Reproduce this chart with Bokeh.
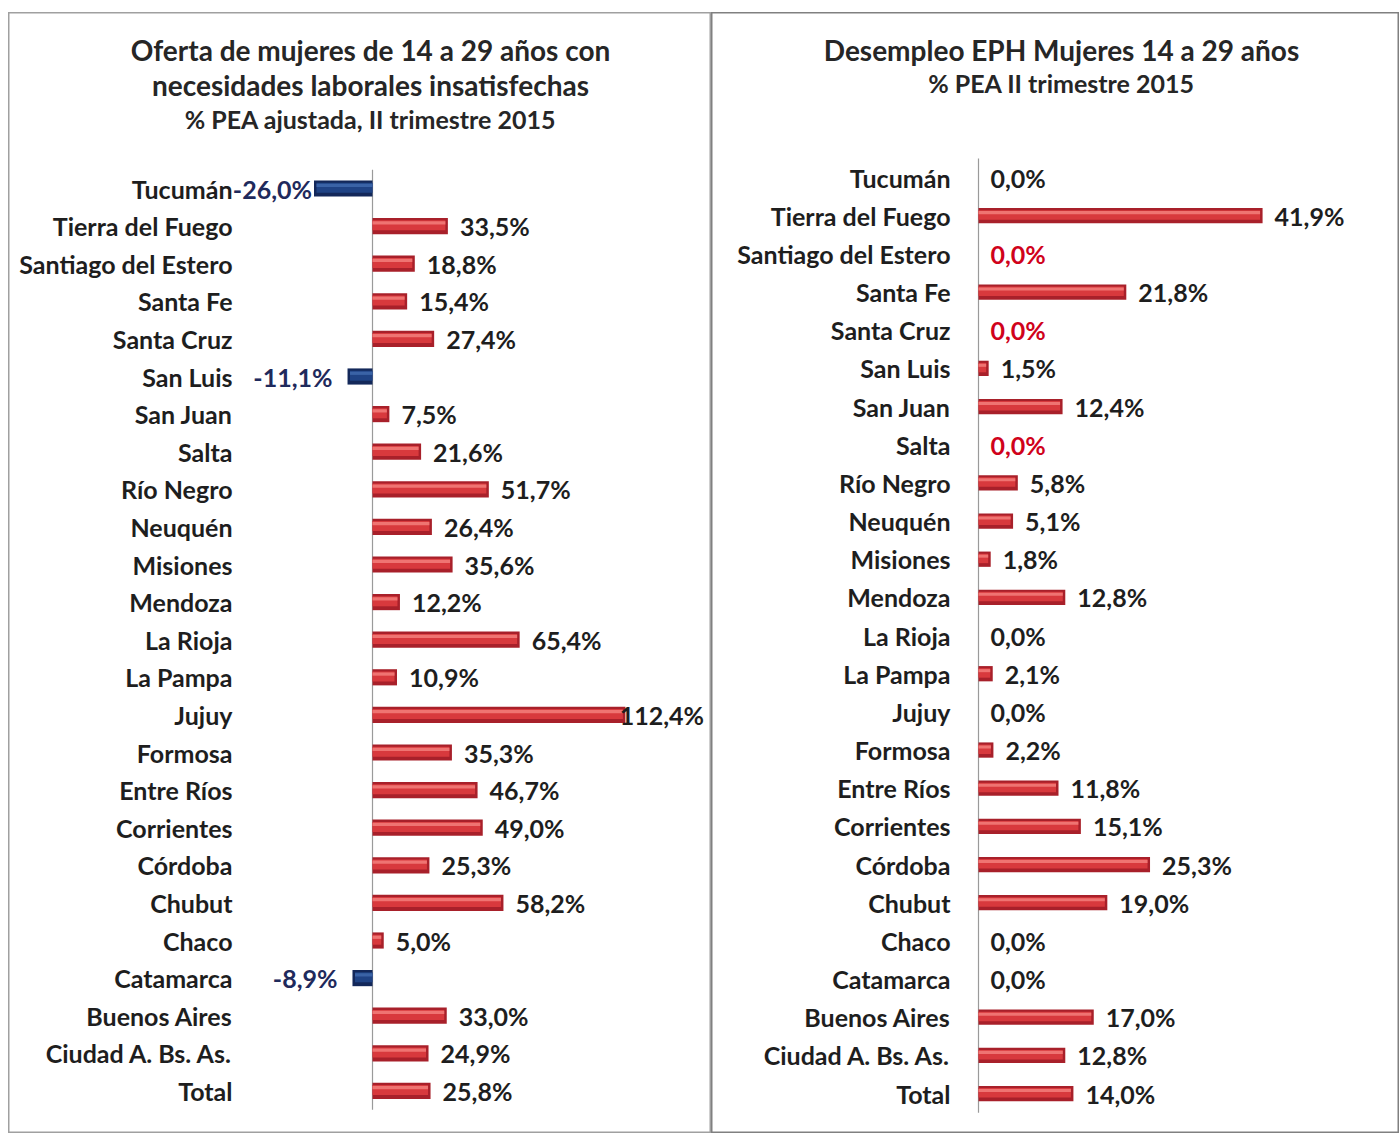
from bokeh.plotting import figure
from bokeh.models import Range1d
from bokeh.layouts import row
from bokeh.embed import file_html
from bokeh.resources import INLINE
from bokeh.core.properties import value

provincias = ["Tucumán", "Tierra del Fuego", "Santiago del Estero", "Santa Fe", "Santa Cruz",
              "San Luis", "San Juan", "Salta", "Río Negro", "Neuquén", "Misiones", "Mendoza",
              "La Rioja", "La Pampa", "Jujuy", "Formosa", "Entre Ríos", "Corrientes", "Córdoba",
              "Chubut", "Chaco", "Catamarca", "Buenos Aires", "Ciudad A. Bs. As.", "Total"]

oferta = [-26.0, 33.5, 18.8, 15.4, 27.4, -11.1, 7.5, 21.6, 51.7, 26.4, 35.6, 12.2,
          65.4, 10.9, 112.4, 35.3, 46.7, 49.0, 25.3, 58.2, 5.0, -8.9, 33.0, 24.9, 25.8]

desempleo = [0.0, 41.9, 0.0, 21.8, 0.0, 1.5, 12.4, 0.0, 5.8, 5.1, 1.8, 12.8,
             0.0, 2.1, 0.0, 2.2, 11.8, 15.1, 25.3, 19.0, 0.0, 0.0, 17.0, 12.8, 14.0]

sin_dato_desempleo = ["Santiago del Estero", "Santa Cruz", "Salta"]

titulo_oferta = ["Oferta de mujeres de 14 a 29 años con",
                 "necesidades laborales insatisfechas",
                 "% PEA ajustada, II trimestre 2015"]
titulo_desempleo = ["Desempleo EPH Mujeres 14 a 29 años",
                    "% PEA II trimestre 2015"]

FONT = "Lato"
LBL_SIZE = 25
CAT_SIZE = 25


def fmt(v):
    return f"{v:.1f}".replace(".", ",") + "%"


def text_width(s, size=LBL_SIZE):
    w = 0.0
    for ch in s:
        if ch.isdigit():
            w += 0.58
        elif ch == ",":
            w += 0.27
        elif ch == "%":
            w += 0.84
        elif ch == "-":
            w += 0.37
        else:
            w += 0.55
    return w * size


def panel(width, height, zero_px, sx, row0_px, dy, bar_frac, values, label_colors,
          cat_right_px, title_lines, title_sizes, title_py, title_cx,
          clamp_left_px, clamp_right_px, outline_color, outline_width, margin):
    x0 = -zero_px / sx
    x1 = x0 + width / sx
    y_bottom = (height - row0_px) / dy
    y_top = -row0_px / dy
    p = figure(width=width, height=height, output_backend="svg", toolbar_location=None,
               x_range=Range1d(x0, x1), y_range=Range1d(y_bottom, y_top),
               x_axis_location=None, y_axis_location=None, min_border=0,
               background_fill_color="white", border_fill_color="white")
    p.margin = margin
    p.grid.visible = False
    p.outline_line_color = outline_color
    p.outline_line_width = outline_width

    n = len(values)
    idx = list(range(n))
    px2x = lambda px: x0 + px / sx

    # titles
    for line, size, py in zip(title_lines, title_sizes, title_py):
        p.text(x=[px2x(title_cx)], y=[(py - row0_px) / dy], text=[line],
               text_font=value(FONT), text_font_style="bold", text_font_size=f"{size}px",
               text_color="#262626", text_align="center", text_baseline="middle")

    # category labels
    p.text(x=[px2x(cat_right_px)] * n, y=idx, text=provincias,
           text_font=value(FONT), text_font_style="bold", text_font_size=f"{CAT_SIZE}px",
           text_color="#1e1e1e", text_align="right", text_baseline="middle")

    # zero line
    p.segment(x0=[0], y0=[-0.5], x1=[0], y1=[n - 0.5], line_color="#9a9a9a", line_width=1.2)

    # bars
    cap = 2.5 / sx
    ys = [i for i, v in zip(idx, values) if v != 0]
    vs = [v for v in values if v != 0]
    lefts = [min(0, v) for v in vs]
    rights = [max(0, v) for v in vs]
    base_c = ["#a8202a" if v > 0 else "#13285a" for v in vs]
    mid_c = ["#d8393d" if v > 0 else "#1f4385" for v in vs]
    hi_c = ["#ef7472" if v > 0 else "#3a63a6" for v in vs]
    in_l = [l + cap if l < 0 else l for l in lefts]
    in_r = [r - cap if r > 0 else r for r in rights]
    p.hbar(y=ys, left=lefts, right=rights, height=bar_frac, fill_color=base_c, line_color=None)
    p.hbar(y=[y - bar_frac * 0.05 for y in ys], left=in_l, right=in_r, height=bar_frac * 0.62,
           fill_color=mid_c, line_color=None)
    p.hbar(y=[y - bar_frac * 0.2 for y in ys], left=in_l, right=in_r, height=bar_frac * 0.2,
           fill_color=hi_c, line_color=None)

    # value labels
    lx_pos, ly_pos, lt_pos, lc_pos = [], [], [], []
    lx_neg, ly_neg, lt_neg, lc_neg = [], [], [], []
    for i, v, c in zip(idx, values, label_colors):
        t = fmt(v)
        w = text_width(t) / sx
        if v < 0:
            lx = v - 15 / sx
            lx = max(lx, px2x(clamp_left_px) + w)
            lx_neg.append(lx); ly_neg.append(i); lt_neg.append(t); lc_neg.append(c)
        else:
            lx = v + 12 / sx
            lx = min(lx, px2x(clamp_right_px) - w)
            lx_pos.append(lx); ly_pos.append(i); lt_pos.append(t); lc_pos.append(c)
    p.text(x=lx_pos, y=ly_pos, text=lt_pos, text_color=lc_pos,
           text_font=value(FONT), text_font_style="bold", text_font_size=f"{LBL_SIZE}px",
           text_align="left", text_baseline="middle")
    if lx_neg:
        p.text(x=lx_neg, y=ly_neg, text=lt_neg, text_color=lc_neg,
               text_font=value(FONT), text_font_style="bold", text_font_size=f"{LBL_SIZE}px",
               text_align="right", text_baseline="middle")
    return p


col_oferta = ["#1f2a5c" if v < 0 else "#1e1e1e" for v in oferta]
col_desempleo = ["#d0021b" if prov in sin_dato_desempleo else "#1e1e1e" for prov in provincias]

p1 = panel(width=703, height=1121, zero_px=364, sx=2.25, row0_px=176, dy=37.6, bar_frac=0.43,
           values=oferta, label_colors=col_oferta, cat_right_px=224,
           title_lines=titulo_oferta, title_sizes=[28, 28, 25], title_py=[37, 72, 106],
           title_cx=362, clamp_left_px=223, clamp_right_px=697,
           outline_color="#a0a0a0", outline_width=2, margin=(12, 0, 0, 8))

p2 = panel(width=688, height=1121, zero_px=267, sx=6.78, row0_px=165, dy=38.17, bar_frac=0.40,
           values=desempleo, label_colors=col_desempleo, cat_right_px=239,
           title_lines=titulo_desempleo, title_sizes=[28, 25], title_py=[37, 70],
           title_cx=350, clamp_left_px=0, clamp_right_px=675,
           outline_color="#808080", outline_width=2, margin=(12, 0, 0, 0))

layout = row(p1, p2)
open("out.html", "w").write(file_html(layout, INLINE))
